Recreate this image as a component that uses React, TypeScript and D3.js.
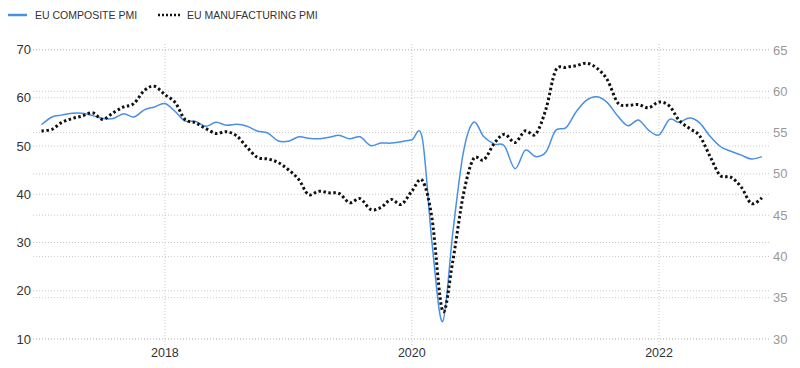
import React from "react";
import * as d3 from "d3";

// monthly, Jan 2017 .. Nov 2022
const months = d3.timeMonths(new Date(2017, 0, 1), new Date(2022, 11, 1));

const compositePmi = [
  54.4, 56.0, 56.4, 56.8, 56.8, 56.3, 55.7, 55.7, 56.7, 56.0, 57.5, 58.1,
  58.8, 57.1, 55.2, 55.1, 54.1, 54.9, 54.3, 54.5, 54.1, 53.1, 52.7, 51.1,
  51.0, 51.9, 51.6, 51.5, 51.8, 52.2, 51.5, 51.9, 50.1, 50.6, 50.6, 50.9,
  51.3, 51.6, 29.7, 13.6, 31.9, 48.5, 54.9, 51.9, 50.4, 50.0, 45.3, 49.1,
  47.8, 48.8, 53.2, 53.8, 57.1, 59.5, 60.2, 59.0, 56.2, 54.2, 55.4, 53.3,
  52.3, 55.5, 54.9, 55.8, 54.8, 52.0, 49.9, 48.9, 48.1, 47.3, 47.8,
];

const manufacturingPmi = [
  55.2, 55.4, 56.2, 56.7, 57.0, 57.4, 56.6, 57.4, 58.1, 58.5, 60.1, 60.6,
  59.6, 58.6, 56.6, 56.2, 55.5, 54.9, 55.1, 54.6, 53.2, 52.0, 51.8, 51.4,
  50.5, 49.3, 47.5, 47.9, 47.7, 47.6, 46.5, 47.0, 45.7, 45.9, 46.9, 46.3,
  47.9, 49.2, 44.5, 33.4, 39.4, 47.4, 51.8, 51.7, 53.7, 54.8, 53.8, 55.2,
  54.8, 57.9, 62.5, 62.9, 63.1, 63.4, 62.8, 61.4, 58.6, 58.3, 58.4, 58.0,
  58.7, 58.2, 56.5, 55.5, 54.6, 52.1, 49.8, 49.6, 48.4, 46.4, 47.1,
];

const leftTicks = [10, 20, 30, 40, 50, 60, 70];
const rightTicks = [30, 35, 40, 45, 50, 55, 60, 65];
const yearTicks = [2018, 2020, 2022];

const W = 800;
const H = 368;
const gridLeft = 33;
const gridRight = 771;

const x = d3
  .scaleTime()
  .domain([new Date(2016, 11, 1), new Date(2022, 11, 1)])
  .range([31, 772]);
const yLeft = d3.scaleLinear().domain([10, 70]).range([339, 49.5]);
const yRight = d3.scaleLinear().domain([30, 65]).range([339, 50]);

const blueLine = d3
  .line<number>()
  .x((_, i) => x(months[i]))
  .y((d) => yLeft(d))
  .curve(d3.curveCardinal.tension(0));

const blackLine = d3
  .line<number>()
  .x((_, i) => x(months[i]))
  .y((d) => yRight(d))
  .curve(d3.curveCardinal.tension(0));

const BLUE = "#4a90e2";
const font = "'Liberation Sans', Arial, sans-serif";

export default function App() {
  return (
    <div style={{ position: "fixed", left: 0, top: 0 }}>
      <svg width={W} height={H} style={{ display: "block", background: "#fff" }} fontFamily={font}>
        {/* legend */}
        <line x1={8} x2={27} y1={15} y2={15} stroke={BLUE} strokeWidth={2.5} />
        <text x={35} y={19} fontSize={10.5} fill="#333">EU COMPOSITE PMI</text>
        <line x1={158} x2={180} y1={15} y2={15} stroke="#111" strokeWidth={2.5} strokeDasharray="2,2" />
        <text x={187} y={19} fontSize={10.5} fill="#333">EU MANUFACTURING PMI</text>

        {/* horizontal grid */}
        {leftTicks.map((t) => (
          <line key={"gl" + t} x1={gridLeft} x2={gridRight} y1={yLeft(t)} y2={yLeft(t)}
            stroke="#c8c8c8" strokeWidth={1} strokeDasharray="1,2" />
        ))}
        {rightTicks.map((t) => (
          <line key={"gr" + t} x1={gridLeft} x2={gridRight} y1={yRight(t)} y2={yRight(t)}
            stroke="#c8c8c8" strokeWidth={1} strokeDasharray="1,2" />
        ))}
        {/* vertical grid */}
        {yearTicks.map((yr) => {
          const px = x(new Date(yr, 0, 1));
          return (
            <g key={"v" + yr}>
              <line x1={px} x2={px} y1={44} y2={345} stroke="#c8c8c8" strokeWidth={1} strokeDasharray="1,2" />
              <text x={px} y={357} fontSize={12.5} fill="#333" textAnchor="middle">{yr}</text>
            </g>
          );
        })}

        {/* axis labels */}
        {leftTicks.map((t) => (
          <text key={"tl" + t} x={31} y={yLeft(t) + 4.5} fontSize={13} fill="#333" textAnchor="end">{t}</text>
        ))}
        {rightTicks.map((t) => (
          <text key={"tr" + t} x={773} y={yRight(t) + 4.5} fontSize={13} fill="#999">{t}</text>
        ))}

        {/* series */}
        <path d={blueLine(compositePmi) ?? ""} fill="none" stroke={BLUE} strokeWidth={1.5} />
        <path d={blackLine(manufacturingPmi) ?? ""} fill="none" stroke="#111" strokeWidth={3}
          strokeDasharray="2.5,2.5" />
      </svg>
    </div>
  );
}
